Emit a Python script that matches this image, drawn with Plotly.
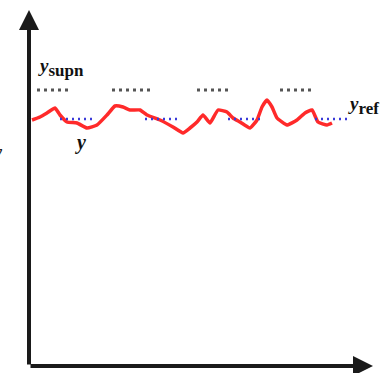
import plotly.graph_objects as go

# Controlled output y(t) (red trace)
t_out = [0.3, 1.1, 1.8, 2.6, 3.1, 3.8, 4.8, 5.8, 6.8, 7.8, 8.6, 9.4, 10.1, 11.1, 11.8,
         13.1, 14.4, 15.4, 16.1, 16.8, 17.4, 18.1, 18.9, 19.8, 20.4, 21.1, 22.1, 22.8,
         23.3, 23.8, 24.3, 24.8, 25.8, 26.8, 27.6, 28.3, 28.9, 29.8, 30.3]
y_out = [24.6, 24.9, 25.3, 25.8, 25.1, 24.4, 24.3, 23.8, 24.1, 25.1, 26.0, 25.9, 25.6,
         25.6, 25.1, 24.6, 23.9, 23.3, 23.8, 24.4, 25.1, 24.3, 25.6, 25.4, 24.8, 24.4,
         23.8, 24.6, 25.9, 26.6, 25.9, 24.8, 24.1, 24.6, 25.3, 25.6, 24.4, 24.1, 24.3]

# Reference level y_ref, shown in separate intervals (blue dots)
y_ref = 24.7
ref_start = [3.1, 11.6, 19.9, 28.6]
ref_end = [6.6, 15.1, 23.3, 31.8]

# Upper level, shown in separate intervals (grey dots)
y_up = 27.6
up_start = [0.8, 8.3, 16.8, 25.1]
up_end = [4.1, 12.4, 20.3, 28.6]

# Axis extents
t_max = 34.4
y_max = 35.6

fig = go.Figure()

for a, b in zip(up_start, up_end):
    fig.add_trace(go.Scatter(x=[a, b], y=[y_up, y_up], mode="lines",
                             line=dict(color="#555555", width=3, dash="3px,4px"),
                             hoverinfo="skip", showlegend=False))

fig.add_trace(go.Scatter(x=t_out, y=y_out, mode="lines",
                         line=dict(color="#ff2a2a", width=3.5, shape="spline",
                                   smoothing=0.4),
                         hoverinfo="skip", showlegend=False))

for a, b in zip(ref_start, ref_end):
    fig.add_trace(go.Scatter(x=[a, b], y=[y_ref, y_ref], mode="lines",
                             line=dict(color="#3a3ad8", width=2.5, dash="2px,4px"),
                             hoverinfo="skip", showlegend=False))

serif = "Liberation Serif"

annotations = [
    # axes with arrowheads
    dict(x=t_max, y=0, ax=0, ay=0, xref="x", yref="y", axref="x", ayref="y",
         showarrow=True, arrowhead=2, arrowsize=1.0, arrowwidth=4,
         arrowcolor="#1a1a1a", text=""),
    dict(x=0, y=y_max, ax=0, ay=0, xref="x", yref="y", axref="x", ayref="y",
         showarrow=True, arrowhead=2, arrowsize=1.0, arrowwidth=4,
         arrowcolor="#1a1a1a", text=""),
    # labels
    dict(x=0.7, y=29.9, xref="x", yref="y", xanchor="left", yanchor="middle",
         showarrow=False,
         text="<b><i>y</i></b><sub><b><span style='font-size:17px'>supn</span></b></sub>",
         font=dict(family=serif, size=19, color="#111111")),
    dict(x=31.7, y=26.1, xref="x", yref="y", xanchor="left", yanchor="middle",
         showarrow=False,
         text="<b><i>y</i></b><sub><b><span style='font-size:17px'>ref</span></b></sub>",
         font=dict(family=serif, size=19, color="#111111")),
    dict(x=5.1, y=22.4, xref="x", yref="y", xanchor="center", yanchor="middle",
         showarrow=False, text="<b><i>y</i></b>",
         font=dict(family=serif, size=20, color="#111111")),
    dict(x=-2.4, y=21.4, xref="x", yref="y", xanchor="right", yanchor="middle",
         showarrow=False, text="<b><i>y</i></b>",
         font=dict(family=serif, size=18, color="#111111")),
]

fig.update_layout(
    width=380, height=373,
    margin=dict(l=0, r=0, t=0, b=0),
    paper_bgcolor="white", plot_bgcolor="white",
    xaxis=dict(range=[-2.9, 35.1], visible=False, fixedrange=True),
    yaxis=dict(range=[-0.7, 36.6], visible=False, fixedrange=True),
    annotations=annotations,
    showlegend=False,
)

fig.write_html("out.html")
